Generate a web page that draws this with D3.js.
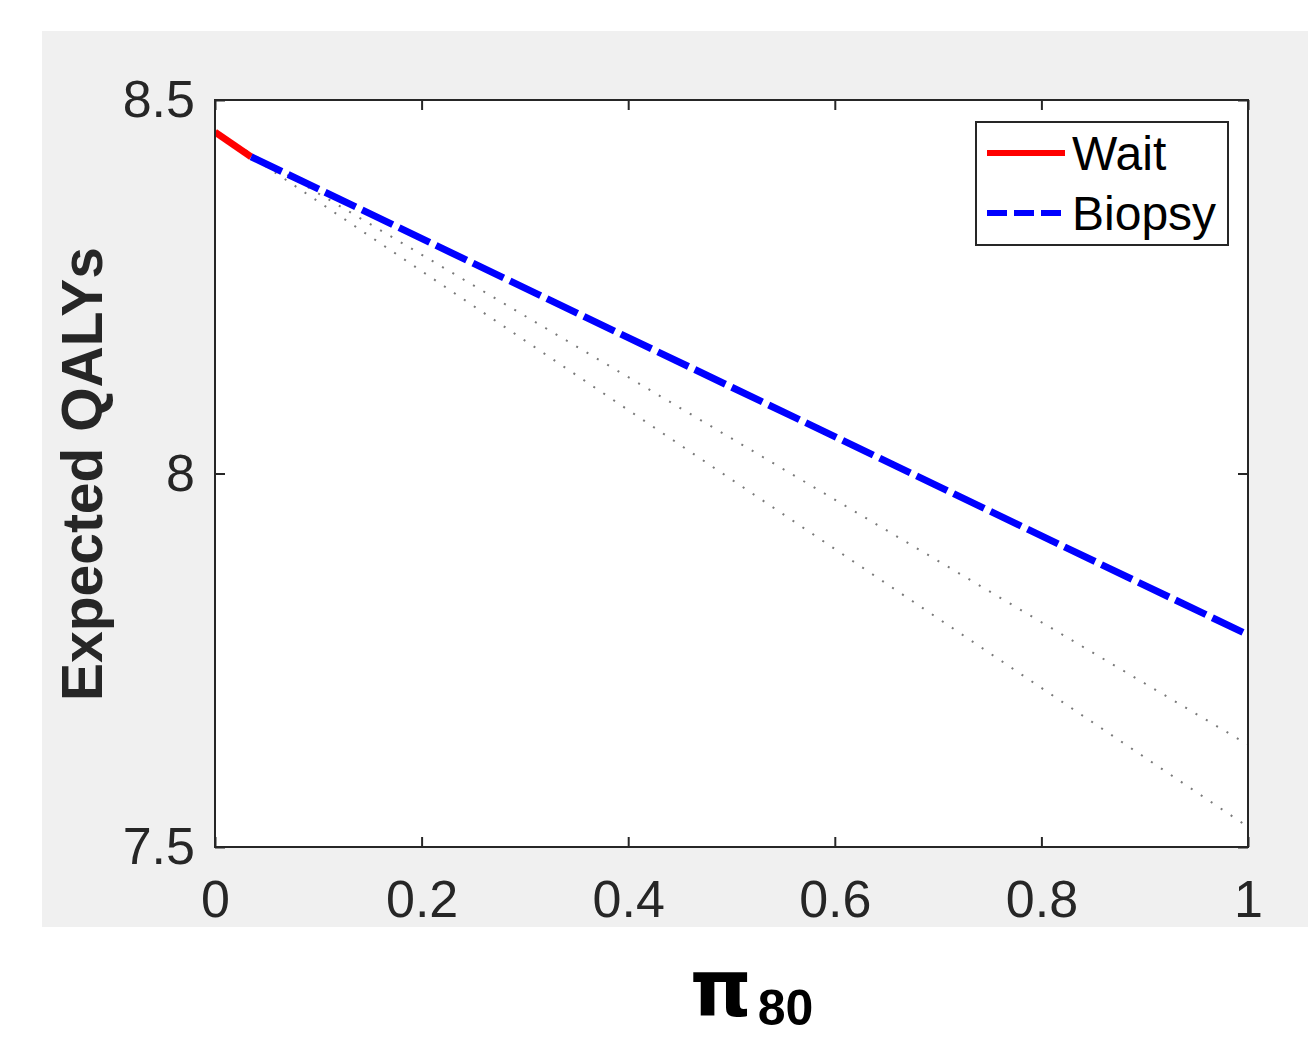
<!DOCTYPE html>
<html>
<head>
<meta charset="utf-8">
<script src="https://cdn.jsdelivr.net/npm/d3@7"></script>
<style>
  body { margin: 0; background: #fff; }
  svg { display: block; }
</style>
</head>
<body>
<div id="chart"></div>
<script>
'use strict';
// values
const xTicks = [0, 0.2, 0.4, 0.6, 0.8, 1]
const yTicks = [7.5, 8, 8.5]
const waitX = [0, 0.035]
const waitY = [8.457, 8.424]
const biopsyX = [0.035, 1]
const biopsyY = [8.424, 7.784]
const altX = [0, 1]
const altUpperY = [8.457, 7.637]
const altLowerY = [8.457, 7.527]
const legendLabels = ['Wait', 'Biopsy']

const W = 1308, H = 1037
const plot = { left: 215, right: 1248, top: 100, bottom: 847 }
const axisColor = '#262626'
const font = '"Liberation Sans", Arial, Helvetica, sans-serif'

const x = d3.scaleLinear().domain([0, 1]).range([plot.left, plot.right])
const y = d3.scaleLinear().domain([7.5, 8.5]).range([plot.bottom, plot.top])

const svg = d3.select('#chart').append('svg')
  .attr('width', W)
  .attr('height', H)

// gray figure panel
svg.append('rect')
  .attr('x', 42).attr('y', 31)
  .attr('width', W - 42).attr('height', 927 - 31)
  .attr('fill', '#f0f0f0')

// white axes area
svg.append('rect')
  .attr('x', plot.left).attr('y', plot.top)
  .attr('width', plot.right - plot.left).attr('height', plot.bottom - plot.top)
  .attr('fill', '#fff')

svg.append('clipPath').attr('id', 'clip')
  .append('rect')
  .attr('x', plot.left).attr('y', plot.top - 10)
  .attr('width', plot.right - plot.left + 4).attr('height', plot.bottom - plot.top + 10)

const line = d3.line().x(d => x(d[0])).y(d => y(d[1]))
const zip = (xs, ys) => xs.map((v, i) => [v, ys[i]])

const lines = svg.append('g').attr('clip-path', 'url(#clip)')

// dotted alternative strategies
;[altUpperY, altLowerY].forEach(ys => {
  lines.append('path').datum(zip(altX, ys))
    .attr('d', line)
    .attr('fill', 'none')
    .attr('stroke', '#7a7a7a')
    .attr('stroke-width', 2)
    .attr('stroke-dasharray', '2 10')
})

// Wait (solid red)
lines.append('path').datum(zip(waitX, waitY))
  .attr('d', line)
  .attr('fill', 'none')
  .attr('stroke', '#ff0000')
  .attr('stroke-width', 7)

// Biopsy (dashed blue)
lines.append('path').datum(zip(biopsyX, biopsyY))
  .attr('d', line)
  .attr('fill', 'none')
  .attr('stroke', '#0000ff')
  .attr('stroke-width', 7)
  .attr('stroke-dasharray', '34 7')

// axes with inward ticks
const styleAxis = g => {
  g.select('.domain').remove()
  g.selectAll('line').attr('stroke', axisColor).attr('stroke-width', 2)
  g.selectAll('text')
    .attr('fill', axisColor)
    .style('font-family', font)
    .style('font-size', '52px')
}

svg.append('g')
  .attr('transform', `translate(0,${plot.bottom})`)
  .call(d3.axisBottom(x).tickValues(xTicks).tickSizeInner(-10).tickSizeOuter(0)
    .tickPadding(33).tickFormat(d3.format('')))
  .call(styleAxis)

svg.append('g')
  .attr('transform', `translate(0,${plot.top})`)
  .call(d3.axisTop(x).tickValues(xTicks).tickSizeInner(-10).tickSizeOuter(0).tickFormat(''))
  .call(styleAxis)

svg.append('g')
  .attr('transform', `translate(${plot.left},0)`)
  .call(d3.axisLeft(y).tickValues(yTicks).tickSizeInner(-10).tickSizeOuter(0)
    .tickPadding(20).tickFormat(d3.format('')))
  .call(styleAxis)

svg.append('g')
  .attr('transform', `translate(${plot.right},0)`)
  .call(d3.axisRight(y).tickValues(yTicks).tickSizeInner(-10).tickSizeOuter(0).tickFormat(''))
  .call(styleAxis)

// axes box
svg.append('rect')
  .attr('x', plot.left).attr('y', plot.top)
  .attr('width', plot.right - plot.left).attr('height', plot.bottom - plot.top)
  .attr('fill', 'none')
  .attr('stroke', axisColor)
  .attr('stroke-width', 2)

// y axis label
svg.append('text')
  .attr('transform', 'translate(102,474) rotate(-90)')
  .attr('text-anchor', 'middle')
  .attr('fill', axisColor)
  .style('font-family', font)
  .style('font-weight', 'bold')
  .style('font-size', '57px')
  .text('Expected QALYs')

// x axis label: pi with subscript 80
const xl = svg.append('text')
  .attr('x', 690)
  .attr('y', 1016)
  .attr('fill', '#000')
  .style('font-weight', 'bold')
xl.append('tspan')
  .style('font-family', '"DejaVu Sans", sans-serif')
  .style('font-size', '78px')
  .text('π')
xl.append('tspan')
  .attr('dx', 6).attr('dy', 9)
  .style('font-family', font)
  .style('font-size', '50px')
  .text('80')

// legend
const legend = svg.append('g')
legend.append('rect')
  .attr('x', 976).attr('y', 122)
  .attr('width', 252).attr('height', 123)
  .attr('fill', '#fff')
  .attr('stroke', axisColor)
  .attr('stroke-width', 2)

const legendStyles = [
  { color: '#ff0000', dash: null },
  { color: '#0000ff', dash: '20 7' }
]
legendLabels.forEach((label, i) => {
  const ly = 153 + i * 60
  legend.append('line')
    .attr('x1', 987).attr('x2', 1065)
    .attr('y1', ly).attr('y2', ly)
    .attr('stroke', legendStyles[i].color)
    .attr('stroke-width', 6)
    .attr('stroke-dasharray', legendStyles[i].dash)
  legend.append('text')
    .attr('x', 1072)
    .attr('y', ly + 17)
    .attr('fill', '#000')
    .style('font-family', font)
    .style('font-size', '48px')
    .text(label)
})
</script>
</body>
</html>
